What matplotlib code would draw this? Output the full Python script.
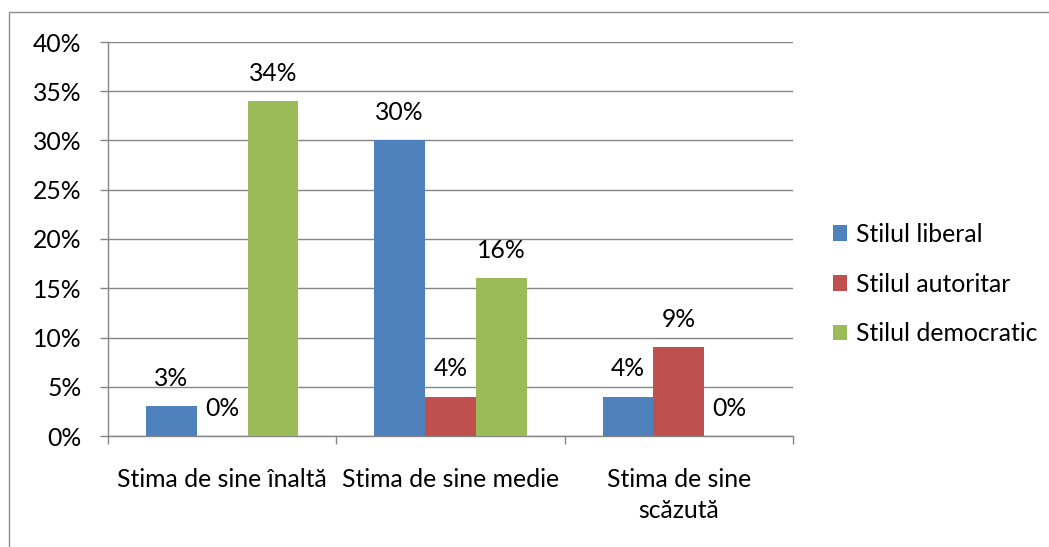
import matplotlib
matplotlib.use("Agg")
import matplotlib.pyplot as plt
from matplotlib.patches import Rectangle
import numpy as np

plt.rcParams['font.family'] = ['Lato', 'DejaVu Sans']

categories = ["Stima de sine înaltă", "Stima de sine medie", "Stima de sine\nscăzută"]
series_names = ["Stilul liberal", "Stilul autoritar", "Stilul democratic"]
liberal = [3, 30, 4]
autoritar = [0, 4, 9]
democratic = [34, 16, 0]
yticks = [0, 5, 10, 15, 20, 25, 30, 35, 40]
colors = ["#4F81BD", "#C0504D", "#9BBB59"]

W, H = 1049, 547
fig = plt.figure(figsize=(W / 100, H / 100), dpi=100)
ax = fig.add_axes([108 / W, 1 - 436 / H, (793 - 108) / W, (436 - 42) / H])

fs = 17.8
x = np.arange(len(categories))
bw = 1 / 4.5
handles = []
for i, (vals, name, c) in enumerate(zip([liberal, autoritar, democratic], series_names, colors)):
    pos = x + (i - 1) * bw
    b = ax.bar(pos, vals, width=bw, color=c, label=name, zorder=3)
    handles.append(b)
    for p, v in zip(pos, vals):
        ax.annotate(f"{v}%", (p, v), xytext=(0, 20), textcoords="offset points",
                    ha="center", va="center", fontsize=fs, color="black", zorder=4)

ax.set_xlim(-0.5, 2.5)
ax.set_ylim(0, 40)
ax.set_yticks(yticks)
ax.set_yticklabels([f"{t}%" for t in yticks], fontsize=fs)
ax.yaxis.grid(True, color="#868686", linewidth=1.0, zorder=0)
ax.set_axisbelow(True)

ax.set_xticks(x)
ax.set_xticklabels(categories, fontsize=fs, linespacing=1.45)
ax.set_xticks([-0.5, 0.5, 1.5, 2.5], minor=True)
ax.tick_params(axis="x", which="major", length=0, pad=23)
ax.tick_params(axis="x", which="minor", length=6, width=1, color="#868686", direction="out")
ax.tick_params(axis="y", length=6, width=1, color="#868686", direction="out", pad=13)

for s in ["top", "right"]:
    ax.spines[s].set_visible(False)
for s in ["left", "bottom"]:
    ax.spines[s].set_color("#868686")
    ax.spines[s].set_linewidth(1.0)

leg = fig.legend(handles=handles, labels=series_names, loc="upper left",
                 bbox_to_anchor=(823 / W, 1 - 213 / H), frameon=False, fontsize=fs,
                 handlelength=0.58, handleheight=0.58, handletextpad=0.36,
                 labelspacing=1.08, borderaxespad=0)

fig.patches.append(Rectangle((9 / W, -0.1), 1.2, 1 - 12 / H + 0.1, transform=fig.transFigure,
                             fill=False, edgecolor="#8c8c8c", linewidth=1.0))

fig.savefig("out.png", dpi=100, facecolor="white")
